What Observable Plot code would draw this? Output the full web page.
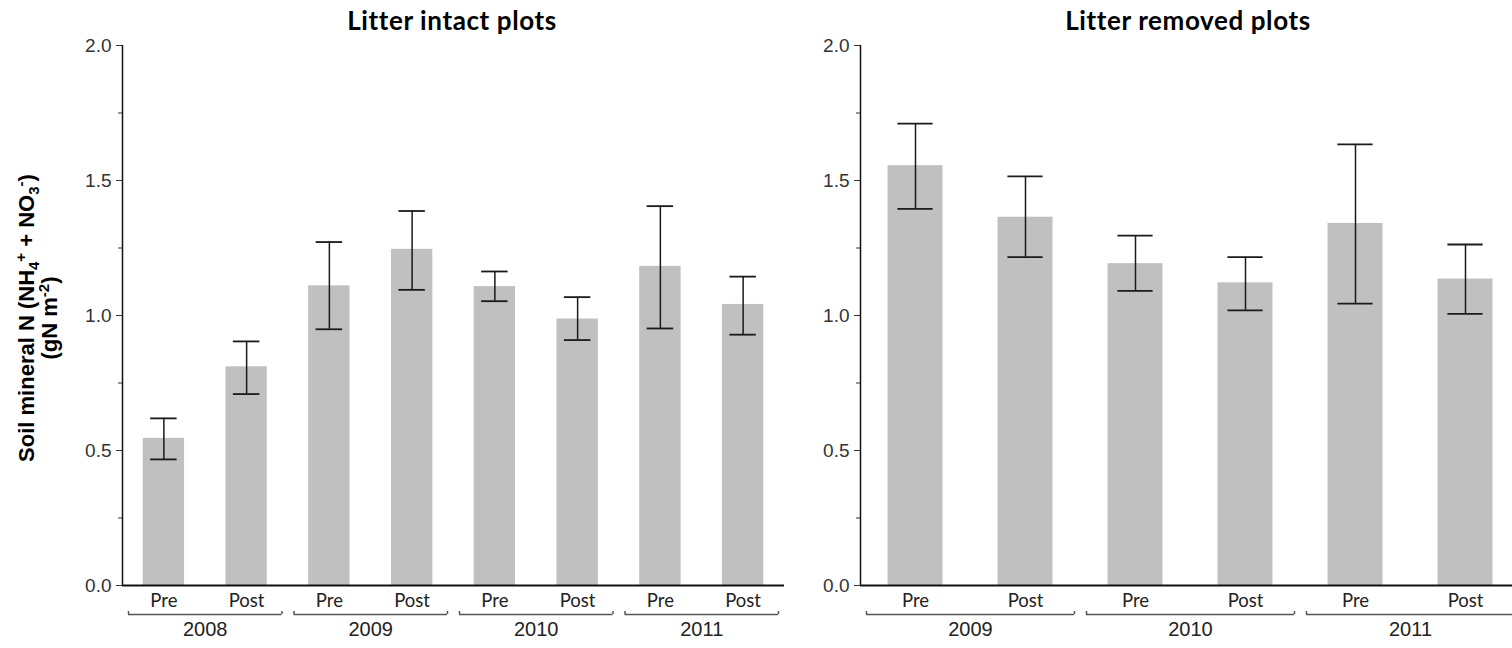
<!DOCTYPE html>
<html>
<head>
<meta charset="utf-8">
<script src="https://cdn.jsdelivr.net/npm/d3@7"></script>
<script src="https://cdn.jsdelivr.net/npm/@observablehq/plot@0.6"></script>
<style>
  html, body { margin: 0; padding: 0; background: #fff; }
  #wrap { position: relative; width: 1512px; height: 648px; overflow: hidden; }
  .panel { position: absolute; top: 0; }
  .panel svg { max-width: none !important; height: 648px !important; }
  .title { position: absolute; top: 6px; width: 400px; text-align: center; font-family: Lato, "Open Sans", sans-serif; font-weight: 700; font-size: 26px; letter-spacing: 0.6px; line-height: 28px; color: #000; }
  #ylabel { position: absolute; width: 360px; left: -142px; top: 295px; transform: rotate(-90deg); transform-origin: 180px 23px; text-align: center; font-family: "Liberation Sans", Arial, sans-serif; font-weight: 700; font-size: 22px; line-height: 23px; color: #000; }
  #ylabel sub, #ylabel sup { font-size: 15px; line-height: 0; }
</style>
</head>
<body>
<div id="wrap">
  <div id="left" class="panel" style="left:0px; width:784px"></div>
  <div id="right" class="panel" style="left:784px; width:736px"></div>
  <div class="title" style="left:252px">Litter intact plots</div>
  <div class="title" style="left:988px">Litter removed plots</div>
  <div id="ylabel">Soil mineral N (NH<sub>4</sub><sup>+</sup> + NO<sub>3</sub><sup>-</sup>)<br>(gN m<sup>-2</sup>)</div>
</div>
<script>
// ---- Data ----
const leftPeriods = ["Pre", "Post", "Pre", "Post", "Pre", "Post", "Pre", "Post"];
const leftYears   = [2008, 2008, 2009, 2009, 2010, 2010, 2011, 2011];
const leftMean    = [0.545, 0.810, 1.110, 1.245, 1.107, 0.987, 1.182, 1.041];
const leftUpper   = [0.619, 0.904, 1.272, 1.387, 1.163, 1.068, 1.405, 1.144];
const leftLower   = [0.467, 0.709, 0.949, 1.095, 1.053, 0.909, 0.952, 0.929];

const rightPeriods = ["Pre", "Post", "Pre", "Post", "Pre", "Post"];
const rightYears   = [2009, 2009, 2010, 2010, 2011, 2011];
const rightMean    = [1.555, 1.364, 1.192, 1.121, 1.341, 1.135];
const rightUpper   = [1.711, 1.515, 1.296, 1.216, 1.634, 1.263];
const rightLower   = [1.395, 1.216, 1.091, 1.019, 1.044, 1.006];

const majorTicks = [0, 0.5, 1.0, 1.5, 2.0];
const minorTicks = [0.25, 0.75, 1.25, 1.75];

const tickFont = "'Liberation Sans Narrow', 'Liberation Sans', Arial, sans-serif";
const catFont = "Lato, 'Open Sans', sans-serif";
const yearFont = "'Liberation Sans', Arial, sans-serif";

function panel({periods, years, mean, upper, lower, width, marginLeft}) {
  const rows = periods.map((p, i) => ({i, period: p, year: years[i], mean: mean[i], hi: upper[i], lo: lower[i]}));
  const groups = d3.groups(rows, d => d.year).map(([year, rs]) => ({
    year,
    start: rs[0].i - 0.5,
    end: rs[rs.length - 1].i + 0.5,
    mid: (rs[0].i + rs[rs.length - 1].i) / 2
  }));
  const xMin = -0.5, xMax = periods.length - 0.5;
  return Plot.plot({
    width, height: 648,
    marginLeft, marginRight: 0, marginTop: 45, marginBottom: 63,
    x: {domain: [xMin, xMax], axis: null},
    y: {domain: [0, 2], axis: null},
    style: {fontFamily: tickFont, fontSize: "18px", background: "#fff", overflow: "visible", maxWidth: "none"},
    marks: [
      Plot.rectY(rows, {x1: d => d.i - 0.25, x2: d => d.i + 0.25, y: "mean", fill: "#c0c0c0"}),
      Plot.ruleX(rows, {x: "i", y1: "lo", y2: "hi", stroke: "#1a1a1a", strokeWidth: 1.5}),
      Plot.ruleY(rows, {x1: d => d.i - 0.16, x2: d => d.i + 0.16, y: "hi", stroke: "#1a1a1a", strokeWidth: 1.8}),
      Plot.ruleY(rows, {x1: d => d.i - 0.16, x2: d => d.i + 0.16, y: "lo", stroke: "#1a1a1a", strokeWidth: 1.8}),
      Plot.axisY(majorTicks, {tickSize: 6, tickPadding: 5, tickFormat: d3.format(".1f"), label: null, color: "#333", fontSize: 19, fontFamily: tickFont}),
      Plot.axisY(minorTicks, {tickSize: 4, tickFormat: () => "", label: null, color: "#333"}),
      Plot.ruleX([xMin], {stroke: "#111", strokeWidth: 1.5}),
      Plot.ruleY([0], {stroke: "#111", strokeWidth: 2}),
      Plot.text(rows, {x: "i", text: "period", frameAnchor: "bottom", lineAnchor: "middle", dy: 16, fontFamily: catFont, fontSize: 18.5, fill: "#222"}),
      Plot.ruleY(groups, {x1: "start", x2: "end", y: 0, dy: 29, insetLeft: 6, insetRight: 6, stroke: "#555", strokeWidth: 1.5}),
      Plot.ruleX(groups, {x: "start", y1: 0, y2: 0, dx: 6, dy: 29, insetTop: -3, stroke: "#555", strokeWidth: 1.5}),
      Plot.ruleX(groups, {x: "end", y1: 0, y2: 0, dx: -6, dy: 29, insetTop: -3, stroke: "#555", strokeWidth: 1.5}),
      Plot.text(groups, {x: "mid", text: d => String(d.year), frameAnchor: "bottom", lineAnchor: "middle", dy: 44, fontFamily: yearFont, fontSize: 20, fill: "#222"})
    ]
  });
}

document.getElementById("left").appendChild(panel({
  periods: leftPeriods, years: leftYears, mean: leftMean, upper: leftUpper, lower: leftLower,
  width: 784, marginLeft: 122
}));
document.getElementById("right").appendChild(panel({
  periods: rightPeriods, years: rightYears, mean: rightMean, upper: rightUpper, lower: rightLower,
  width: 736, marginLeft: 76
}));
</script>
</body>
</html>
